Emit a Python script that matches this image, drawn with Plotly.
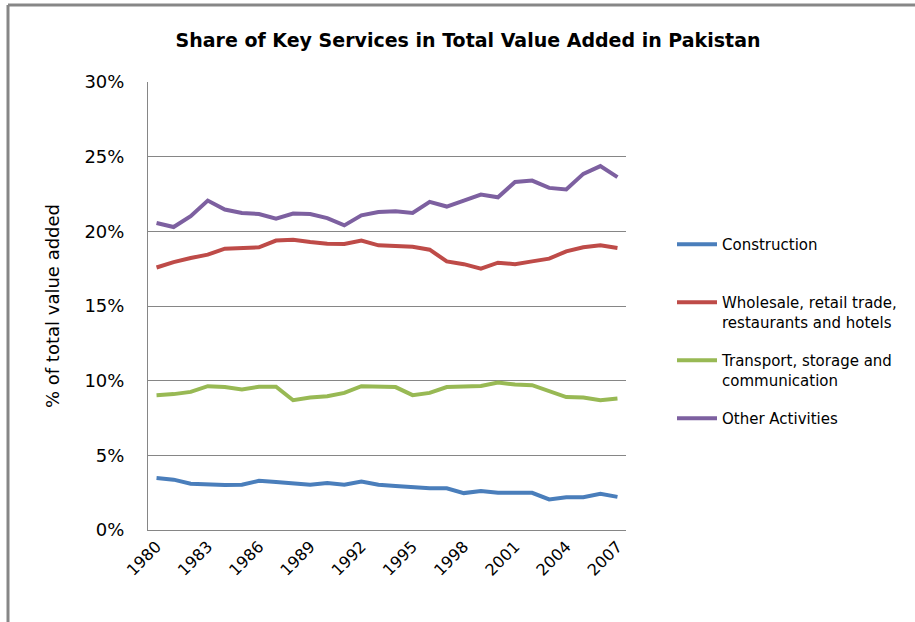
import plotly.graph_objects as go

years = list(range(1980, 2008))

construction = [3.48, 3.37, 3.10, 3.03, 3.01, 3.03, 3.29, 3.22, 3.11, 3.03,
                3.14, 3.03, 3.25, 3.03, 2.94, 2.85, 2.79, 2.79, 2.47, 2.61,
                2.49, 2.49, 2.49, 2.05, 2.20, 2.20, 2.42, 2.22]
wholesale = [17.58, 17.94, 18.21, 18.44, 18.84, 18.88, 18.93, 19.38, 19.44, 19.28,
             19.17, 19.15, 19.38, 19.06, 19.04, 18.97, 18.77, 17.99, 17.80, 17.50,
             17.90, 17.80, 17.99, 18.17, 18.66, 18.93, 19.06, 18.88]
transport = [9.03, 9.10, 9.25, 9.63, 9.57, 9.41, 9.59, 9.59, 8.69, 8.87,
             8.96, 9.18, 9.63, 9.63, 9.57, 9.03, 9.18, 9.57, 9.63, 9.65,
             9.88, 9.74, 9.70, 9.30, 8.90, 8.87, 8.69, 8.80]
other = [20.56, 20.29, 21.01, 22.06, 21.46, 21.23, 21.16, 20.85, 21.19, 21.16,
         20.89, 20.40, 21.07, 21.30, 21.34, 21.23, 21.97, 21.66, 22.06, 22.46,
         22.28, 23.31, 23.40, 22.91, 22.80, 23.85, 24.37, 23.63]

series_names = ["Construction<br> ",
                "Wholesale, retail trade,<br>restaurants and hotels",
                "Transport, storage and<br>communication",
                "Other Activities"]
series_values = [construction, wholesale, transport, other]
series_colors = ["#4A7EBB", "#BE4B48", "#98B954", "#7D60A0"]

tick_years = list(range(1980, 2008, 3))
y_ticks = [0, 0.05, 0.10, 0.15, 0.20, 0.25, 0.30]

fig = go.Figure()
for name, vals, col in zip(series_names, series_values, series_colors):
    fig.add_trace(go.Scatter(
        x=years, y=[v / 100 for v in vals], mode="lines", name=name,
        line=dict(color=col, width=4), legendgroup=name,
    ))

FONT = "DejaVu Sans"
fig.update_layout(
    width=915, height=622,
    margin=dict(l=148, r=289, t=82, b=92),
    paper_bgcolor="white", plot_bgcolor="white",
    font=dict(family=FONT, color="#000000"),
    title=dict(text="Share of Key Services in Total Value Added in Pakistan",
               x=468 / 915, xanchor="center", y=1 - 40 / 622, yanchor="middle",
               font=dict(family=FONT, size=19, color="#000000", weight="bold")),
    showlegend=True,
    legend=dict(x=(672 - 148) / 478, y=(530 - 228) / 448, xanchor="left", yanchor="top",
                font=dict(family=FONT, size=15, color="#000000"),
                valign="top", tracegroupgap=16, itemwidth=40,
                bgcolor="rgba(0,0,0,0)"),
    xaxis=dict(range=[1979.5, 2007.5], tickmode="array", tickvals=tick_years,
               ticktext=[str(t) for t in tick_years], tickangle=-45,
               showgrid=False, showline=True, linecolor="#868686", linewidth=1,
               ticks="", tickfont=dict(family=FONT, size=16), zeroline=False),
    yaxis=dict(range=[0, 0.30], tickmode="array", tickvals=y_ticks,
               ticktext=[f"{int(round(t*100))}%" for t in y_ticks],
               showgrid=True, gridcolor="#868686", gridwidth=1,
               showline=True, linecolor="#868686", linewidth=1,
               ticks="", ticklabelstandoff=19, zeroline=False,
               tickfont=dict(family=FONT, size=18),
               title=dict(text="% of total value added", standoff=20,
                          font=dict(family=FONT, size=18))),
    shapes=[
        dict(type="line", xref="paper", yref="paper",
             x0=(8 - 148) / 478, x1=(930 - 148) / 478,
             y0=(530 - 5) / 448, y1=(530 - 5) / 448,
             line=dict(color="#878787", width=3)),
        dict(type="line", xref="paper", yref="paper",
             x0=(8 - 148) / 478, x1=(8 - 148) / 478,
             y0=(530 - 5) / 448, y1=(530 - 640) / 448,
             line=dict(color="#878787", width=3)),
    ],
)

fig.write_html("out.html", config={"displayModeBar": False},
               post_script="document.body.style.margin='0';")
